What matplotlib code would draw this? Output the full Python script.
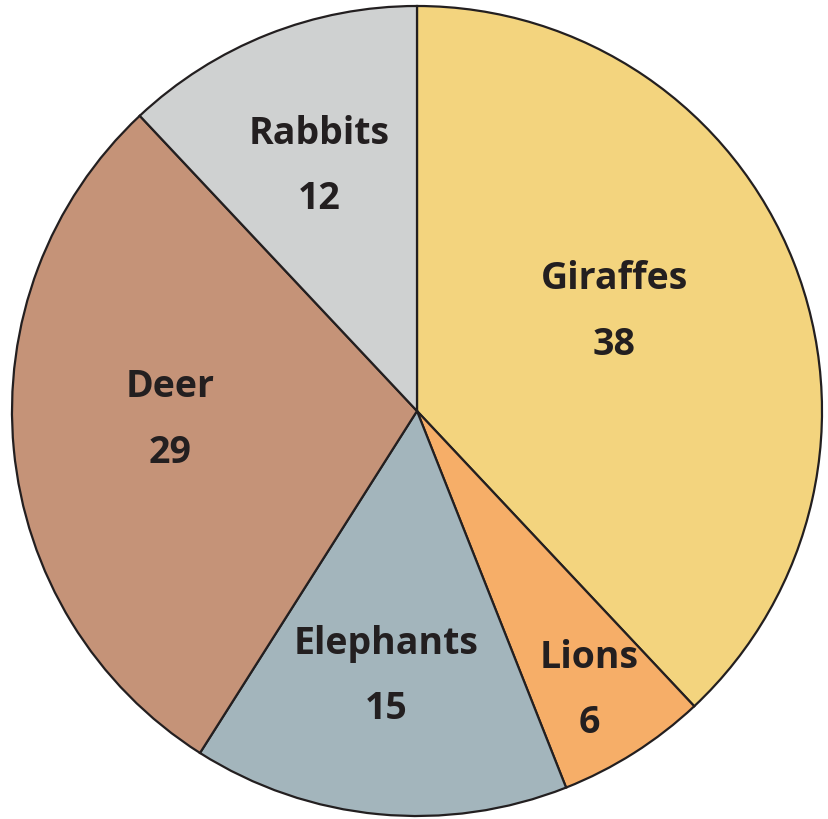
import matplotlib.pyplot as plt
import numpy as np

animals = ['Giraffes', 'Lions', 'Elephants', 'Deer', 'Rabbits']
counts = [38, 6, 15, 29, 12]
colors = ['#F3D47E', '#F6AE68', '#A3B5BC', '#C59378', '#CFD1D1']
# label placement: fraction of radius and angle nudge (deg) from the wedge middle
label_r = [0.545, 0.81, 0.66, 0.61, 0.65]
label_da = [5.0, -0.8, -1.2, -3.3, 0.2]

W, H = 829, 819
cx, cy, R = 417, 411, 405

fig = plt.figure(figsize=(W / 100, H / 100), dpi=100)
ax = fig.add_axes([(cx - R) / W, (H - cy - R) / H, 2 * R / W, 2 * R / H])

wedges, _ = ax.pie(counts, colors=colors, startangle=90, counterclock=False,
                   radius=1, wedgeprops=dict(edgecolor='#231F20', linewidth=1.6))
ax.set_xlim(-1, 1)
ax.set_ylim(-1, 1)
ax.set_aspect('equal')
ax.axis('off')

for w, name, n, r, da in zip(wedges, animals, counts, label_r, label_da):
    a = np.deg2rad((w.theta1 + w.theta2) / 2 + da)
    x, y = r * np.cos(a), r * np.sin(a)
    ax.text(x, y + 0.081, name, ha='center', va='center', fontsize=27,
            fontweight='bold', family='Open Sans', color='#231F20')
    ax.text(x, y - 0.081, str(n), ha='center', va='center', fontsize=27,
            fontweight='bold', family='Open Sans', color='#231F20')

fig.savefig('out.png', dpi=100)
